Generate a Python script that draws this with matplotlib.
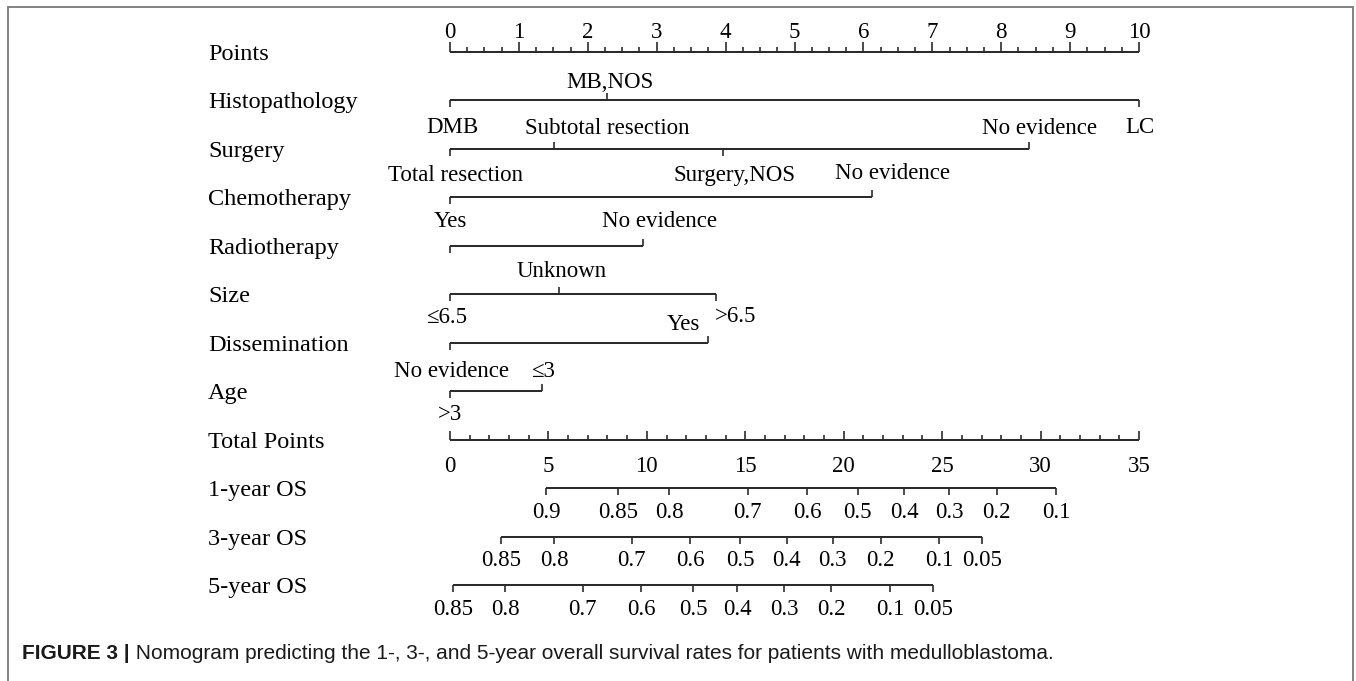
import numpy as np
import matplotlib
matplotlib.use("Agg")
import matplotlib.pyplot as plt
from matplotlib.patches import Rectangle

# ---------------------------------------------------------------- data
row_names = ["Points", "Histopathology", "Surgery", "Chemotherapy",
             "Radiotherapy", "Size", "Dissemination", "Age",
             "Total Points", "1-year OS", "3-year OS", "5-year OS"]

points_max = 10
total_max = 35

hist_levels = ["DMB", "MB,NOS", "LC"]
hist_points = [0, 2.28, 10]

surg_levels = ["Total resection", "Subtotal resection", "Surgery,NOS", "No evidence"]
surg_points = [0, 1.51, 3.96, 8.40]

chemo_levels = ["Yes", "No evidence"]
chemo_points = [0, 6.13]

radio_levels = ["Yes", "No evidence"]
radio_points = [0, 2.80]

size_levels = ["≤6.5", "Unknown", ">6.5"]
size_points = [0, 1.58, 3.86]

diss_levels = ["No evidence", "Yes"]
diss_points = [0, 3.74]

age_levels = [">3", "≤3"]
age_points = [0, 1.34]

os1_labels = ["0.9", "0.85", "0.8", "0.7", "0.6", "0.5", "0.4", "0.3", "0.2", "0.1"]
os1_total = [4.88, 8.55, 11.14, 15.12, 18.15, 20.71, 23.06, 25.35, 27.77, 30.78]

os3_labels = ["0.85", "0.8", "0.7", "0.6", "0.5", "0.4", "0.3", "0.2", "0.1", "0.05"]
os3_total = [2.59, 5.30, 9.23, 12.19, 14.73, 17.10, 19.44, 21.88, 24.86, 27.04]

os5_labels = ["0.85", "0.8", "0.7", "0.6", "0.5", "0.4", "0.3", "0.2", "0.1", "0.05"]
os5_total = [0.14, 2.81, 6.74, 9.70, 12.36, 14.59, 16.97, 19.37, 22.35, 24.55]

caption_bold = "FIGURE 3 |"
caption_rest = " Nomogram predicting the 1-, 3-, and 5-year overall survival rates for patients with medulloblastoma."

# -------------------------------------------------------------- layout
W, H, DPI = 1356, 681, 100
PX_PER_POINT = 68.9          # horizontal scale of the Points axis
X0_PX = 450                  # pixel column of 0 points
ROW0_PX = 52                 # pixel row of the first axis line
ROW_PX = 48.45               # spacing between axis lines

SERIF = ["Liberation Serif", "DejaVu Serif"]
SANS = ["Liberation Sans", "DejaVu Sans"]
LINE_C = "#2b2b2b"
LW = 1.45
TICK_LW = 1.2
ROW_FS = 17.5
LAB_FS = 16.5
CAP_FS = 15

# label side ('up' / 'down' / None = no label), tick side, and pixel nudges
level_layout = {
    "Histopathology": dict(label=["down", "up", "down"], tick=["down", "up", "down"],
                           dx=[2, 3, 1], dy=[-33, 12, -33]),
    "Surgery": dict(label=["down", "up", "down", "up"], tick=["down", "up", "down", "up"],
                    dx=[5, 53, 12, 11], dy=[-32, 15, -32, 15]),
    "Chemotherapy": dict(label=["down", "up"], tick=["down", "up"],
                         dx=[0, 20], dy=[-30, 18]),
    "Radiotherapy": dict(label=[None, "up"], tick=["down", "up"],
                         dx=[0, 17], dy=[19, 19]),
    "Size": dict(label=["down", "up", "down"], tick=["down", "up", "down"],
                 dx=[-3, 3, 20], dy=[-29, 17, -28]),
    "Dissemination": dict(label=["down", "up"], tick=["down", "up"],
                          dx=[2, -24], dy=[-34, 13]),
    "Age": dict(label=["down", "up"], tick=["down", "up"],
                dx=[0, 1], dy=[-29, 14]),
}

fig = plt.figure(figsize=(W / DPI, H / DPI), dpi=DPI)
fig.patch.set_facecolor("white")
ax = fig.add_axes([0, 0, 1, 1])
ax.axis("off")
ax.set_xlim(-X0_PX / PX_PER_POINT, (W - X0_PX) / PX_PER_POINT)
ax.set_ylim((H - ROW0_PX) / ROW_PX, -ROW0_PX / ROW_PX)


def px_rows(px):
    """Vertical length in row units for a length given in pixels."""
    return px / ROW_PX


def to_points(total):
    return np.asarray(total, dtype=float) * points_max / total_max


def hline(row, x0, x1):
    ax.plot([x0, x1], [row, row], color=LINE_C, lw=LW, solid_capstyle="butt")


def tick(row, x, length_px, up=True):
    d = -px_rows(length_px) if up else px_rows(length_px)
    ax.plot([x, x], [row, row + d], color=LINE_C, lw=TICK_LW, solid_capstyle="butt")


def label(row, x, text, dx, dy, size=LAB_FS):
    ax.annotate(text, xy=(x, row), xytext=(dx, dy), textcoords="offset pixels",
                ha="center", va="baseline", fontsize=size, family=SERIF, color="black")


# row titles
for i, name in enumerate(row_names):
    ax.annotate(name, xy=(208 / W, i), xycoords=ax.get_yaxis_transform(),
                xytext=(0, -8), textcoords="offset pixels",
                ha="left", va="baseline", fontsize=ROW_FS, family=SERIF, color="black")

# Points scale
r = row_names.index("Points")
hline(r, 0, points_max)
for v in np.arange(0, points_max + 1e-9, 0.25):
    major = abs(v - round(v)) < 1e-9
    tick(r, v, 10 if major else 5, up=True)
    if major:
        label(r, v, f"{int(round(v))}", 0, 14)

# predictor scales
predictors = {
    "Histopathology": (hist_levels, hist_points),
    "Surgery": (surg_levels, surg_points),
    "Chemotherapy": (chemo_levels, chemo_points),
    "Radiotherapy": (radio_levels, radio_points),
    "Size": (size_levels, size_points),
    "Dissemination": (diss_levels, diss_points),
    "Age": (age_levels, age_points),
}
for name, (levels, pts) in predictors.items():
    r = row_names.index(name)
    lay = level_layout[name]
    hline(r, min(pts), max(pts))
    for j, (lev, p) in enumerate(zip(levels, pts)):
        tick(r, p, 7, up=(lay["tick"][j] == "up"))
        if lay["label"][j] is not None:
            label(r, p, lev, lay["dx"][j], lay["dy"][j])

# Total points scale
r = row_names.index("Total Points")
hline(r, 0, to_points(total_max))
for v in range(0, total_max + 1):
    tick(r, to_points(v), 9 if v % 5 == 0 else 5, up=True)
    if v % 5 == 0:
        label(r, to_points(v), f"{v}", 0, -32)

# survival scales
for name, labs, tots in [("1-year OS", os1_labels, os1_total),
                         ("3-year OS", os3_labels, os3_total),
                         ("5-year OS", os5_labels, os5_total)]:
    r = row_names.index(name)
    xs = to_points(tots)
    hline(r, xs.min(), xs.max())
    for lab, x in zip(labs, xs):
        tick(r, x, 7, up=False)
        label(r, x, lab, 0, -30)

# frame around the figure panel
fig.add_artist(Rectangle((8 / W, -0.05), (1353 - 8) / W, 1.05 - 7 / H,
                         transform=fig.transFigure, fill=False,
                         ec="#7a7a7a", lw=1.3))

# caption
t1 = fig.text(22 / W, 1 - 659 / H, caption_bold, fontsize=CAP_FS, weight="bold",
              family=SANS, va="baseline", color="#1a1a1a")
fig.canvas.draw()
bb = t1.get_window_extent()
fig.text(bb.x1 / W, 1 - 659 / H, caption_rest, fontsize=CAP_FS,
         family=SANS, va="baseline", color="#1a1a1a")

fig.savefig("out.png", dpi=DPI, facecolor="white")
